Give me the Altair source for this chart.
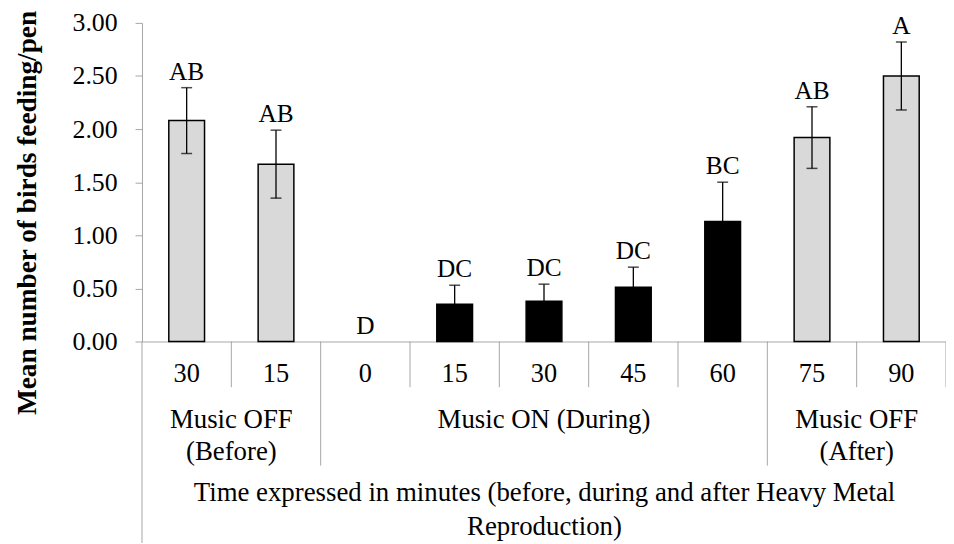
import altair as alt
import pandas as pd

# ---- data ----
tick_labels = ["30", "15", "0", "15", "30", "45", "60", "75", "90"]
means = [2.08, 1.67, 0.00, 0.35, 0.38, 0.51, 1.13, 1.92, 2.50]
errors = [0.31, 0.32, 0.00, 0.18, 0.16, 0.19, 0.37, 0.29, 0.32]
letters = ["AB", "AB", "D", "DC", "DC", "DC", "BC", "AB", "A"]
music = ["OFF", "OFF", "ON", "ON", "ON", "ON", "ON", "OFF", "OFF"]
group_names = ["Music OFF\n(Before)", "Music ON (During)", "Music OFF\n(After)"]
group_sizes = [2, 5, 2]
y_ticks = [0, 0.5, 1.0, 1.5, 2.0, 2.5, 3.0]
x_title = ["Time expressed in minutes (before, during and after Heavy Metal",
           "Reproduction)"]
y_title = "Mean number of birds feeding/pen"

# ---- layout / style ----
FONT = "Liberation Serif"
GRAY = "#a6a6a6"
W, H = 810, 321

n = len(tick_labels)
df = pd.DataFrame({
    "idx": list(range(n)),
    "mean": means,
    "err": errors,
    "letter": letters,
    "music": music,
})
df["lo"] = df["mean"] - df["err"]
df["hi"] = df["mean"] + df["err"]

label_expr = "[" + ",".join("'%s'" % t for t in tick_labels) + "][datum.value]"

band_scale = alt.Scale(paddingInner=0.6, paddingOuter=0.3)
x_band = alt.X(
    "idx:O",
    scale=band_scale,
    axis=alt.Axis(
        labelExpr=label_expr, labelAngle=0, ticks=False, grid=False,
        labelFont=FONT, labelFontSize=26.5, labelColor="black",
        labelBaseline="middle", labelPadding=32,
        domainColor=GRAY, domainWidth=1,
        title=x_title, titleFont=FONT, titleFontSize=27,
        titleFontWeight="normal", titleColor="black", titleLineHeight=34,
        titleX=W / 2, titleY=160, titleBaseline="alphabetic", titleAlign="center",
    ),
)
y_scale = alt.Scale(domain=[0, 3], nice=False, zero=True)
y_axis = alt.Axis(
    values=y_ticks, format=".2f", grid=False,
    tickSize=7, tickColor=GRAY, domainColor=GRAY,
    labelFont=FONT, labelFontSize=26, labelColor="black", labelPadding=18,
    title=y_title, titleFont=FONT, titleFontSize=27.5, titleFontWeight="bold",
    titleColor="black", titleAngle=270, titleX=-107, titleY=212 - 21,
    titleBaseline="alphabetic", titleAlign="center",
)

base = alt.Chart(df)

bars = base.transform_filter("datum.mean > 0").mark_bar(
    stroke="black", strokeWidth=1.5).encode(
    x=x_band,
    y=alt.Y("mean:Q", scale=y_scale, axis=y_axis),
    color=alt.Color("music:N",
                    scale=alt.Scale(domain=["OFF", "ON"], range=["#d9d9d9", "#000000"]),
                    legend=None),
)

err_base = base.transform_filter("datum.err > 0")
err_rule = err_base.mark_rule(color="black", strokeWidth=1.3).encode(
    x=alt.X("idx:O", scale=band_scale),
    y=alt.Y("lo:Q", scale=y_scale),
    y2="hi:Q",
)
cap_hi = err_base.mark_tick(color="black", size=11, thickness=1.5).encode(
    x=alt.X("idx:O", scale=band_scale),
    y=alt.Y("hi:Q", scale=y_scale),
)
cap_lo = err_base.mark_tick(color="black", size=11, thickness=1.5).encode(
    x=alt.X("idx:O", scale=band_scale),
    y=alt.Y("lo:Q", scale=y_scale),
)
letter_text = base.mark_text(font=FONT, fontSize=25.5, baseline="alphabetic",
                             dy=-8, color="black").encode(
    x=alt.X("idx:O", scale=band_scale),
    y=alt.Y("hi:Q", scale=y_scale),
    text="letter:N",
)

main = alt.layer(bars, err_rule, cap_hi, cap_lo, letter_text)

# ---- multi-level category axis decorations ----
bounds = [0]
for s in group_sizes:
    bounds.append(bounds[-1] + s)
centers = [(bounds[i] + bounds[i + 1]) / 2 for i in range(len(group_sizes))]
inner_bounds = [b for b in range(1, n + 1) if b not in bounds[1:-1]]
long_bounds = bounds[1:-1]

q_scale = alt.Scale(domain=[0, n], nice=False, zero=False)

short_rules = alt.Chart(pd.DataFrame({"pos": inner_bounds})).mark_rule(
    color=GRAY, strokeWidth=1).encode(
    x=alt.X("pos:Q", scale=q_scale, axis=None),
    y=alt.value(H), y2=alt.value(H + 46),
)
long_rules = alt.Chart(pd.DataFrame({"pos": long_bounds})).mark_rule(
    color=GRAY, strokeWidth=1).encode(
    x=alt.X("pos:Q", scale=q_scale, axis=None),
    y=alt.value(H), y2=alt.value(H + 125),
)
axis_ext = alt.Chart(pd.DataFrame({"pos": [0]})).mark_rule(
    color=GRAY, strokeWidth=1).encode(
    x=alt.X("pos:Q", scale=q_scale, axis=None),
    y=alt.value(H), y2=alt.value(H + 215),
)
group_text = alt.Chart(pd.DataFrame({"center": centers, "name": group_names})).mark_text(
    font=FONT, fontSize=27, lineBreak="\n", lineHeight=32,
    baseline="alphabetic", color="black").encode(
    x=alt.X("center:Q", scale=q_scale, axis=None),
    y=alt.value(H + 87),
    text="name:N",
)

deco = alt.layer(short_rules, long_rules, axis_ext, group_text)

chart = alt.layer(main, deco).resolve_scale(x="independent").properties(
    width=W, height=H,
    padding={"left": 135, "top": 13, "right": 0, "bottom": 201},
    autosize=alt.AutoSizeParams(type="none"),
).configure_view(stroke=None)

chart.save("out.html", embed_options={"renderer": "svg", "actions": False})
